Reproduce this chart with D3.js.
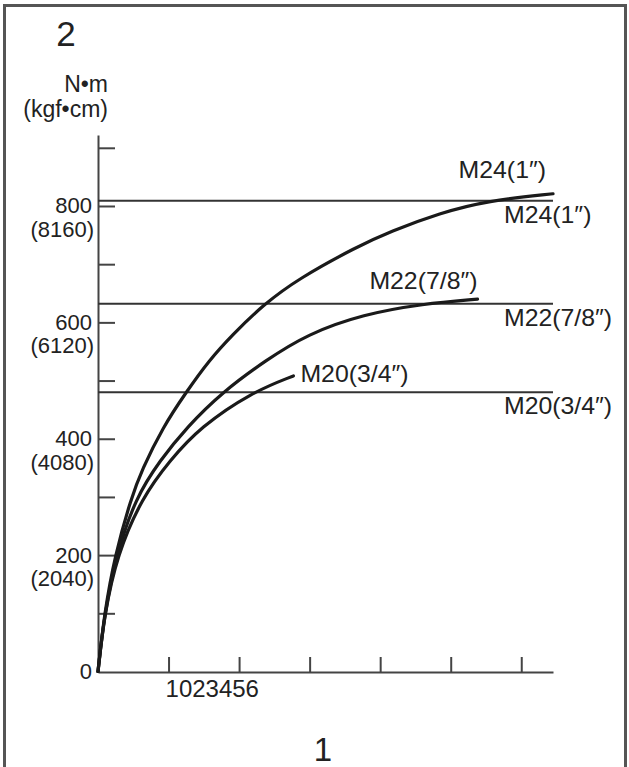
<!DOCTYPE html>
<html>
<head>
<meta charset="utf-8">
<script src="https://cdn.jsdelivr.net/npm/d3@7"></script>
<style>
	body { margin: 0; background: #fff; }
	svg { display: block; font-family: "Liberation Sans", Arial, "DejaVu Sans", sans-serif; }
</style>
</head>
<body>
<svg id="chart" width="629" height="767"></svg>
<script>
// Data (x in chart units, torque in N·m)
const sizes = ["M24(1″)", "M22(7/8″)", "M20(3/4″)"];
const limits = [809, 632, 480];

const m24 = [[0, 0], [0.09, 100], [0.24, 200], [0.47, 298], [0.62, 346], [0.92, 420], [1.25, 480], [1.57, 534],
	[1.9, 578], [2.34, 630], [2.84, 675], [3.67, 730], [4.14, 756], [4.85, 788], [5.52, 809], [6.45, 821]];
const m22 = [[0, 0], [0.09, 98], [0.26, 200], [0.53, 298], [0.88, 363], [1.26, 420], [1.76, 480], [2.38, 535],
	[2.97, 580], [3.76, 614], [4.61, 632], [5.38, 640]];
const m20 = [[0, 0], [0.09, 98], [0.27, 200], [0.62, 298], [1.02, 363], [1.45, 420], [2.18, 480], [2.77, 508]];
const curves = [m24, m22, m20];

const xTicks = [1, 2, 3, 4, 5, 6];
const yTicks = [100, 200, 300, 400, 500, 600, 700, 800, 900];
const yLabels = [0, 200, 400, 600, 800];
const kgfLabels = ["", "(2040)", "(4080)", "(6120)", "(8160)"];

const svg = d3.select("#chart");

// Frame
svg.append("rect")
	.attr("x", 4.5).attr("y", 5.5)
	.attr("width", 621).attr("height", 800)
	.style("fill", "white")
	.style("stroke", "#555")
	.style("stroke-width", 3);

const x = d3.scaleLinear().domain([0, 6.45]).range([98, 553]);
const y = d3.scaleLinear().domain([0, 922]).range([671.5, 135]);

// Axes
svg.append("g")
	.attr("transform", "translate(0,672)")
	.call(d3.axisTop(x).tickValues(xTicks).tickSize(15).tickSizeOuter(0).tickFormat(""))
	.call(g => g.selectAll("path, line").style("stroke", "#444").style("stroke-width", 2));

svg.append("g")
	.attr("transform", "translate(98,0)")
	.call(d3.axisRight(y).tickValues(yTicks).tickSize(17).tickSizeOuter(0).tickFormat(""))
	.call(g => g.selectAll("path, line").style("stroke", "#444").style("stroke-width", 2));

// Y labels, N·m and kgf·cm
svg.append("g")
	.selectAll("text")
	.data(yLabels)
	.join("text")
	.attr("x", 92)
	.attr("y", d => y(d) + 7.5)
	.attr("text-anchor", "end")
	.style("font-size", "22px")
	.style("fill", "#222")
	.text(d => d);

svg.append("g")
	.selectAll("text")
	.data(yLabels)
	.join("text")
	.attr("x", 94)
	.attr("y", d => y(d) + 31)
	.attr("text-anchor", "end")
	.style("font-size", "22px")
	.style("fill", "#222")
	.text((d, i) => kgfLabels[i]);

// X tick label as printed
svg.append("text")
	.attr("x", x(1) - 3)
	.attr("y", 697)
	.style("font-size", "24px")
	.style("fill", "#222")
	.text("1023456");

// Limit lines
svg.append("g")
	.selectAll("line")
	.data(limits)
	.join("line")
	.attr("x1", x(0)).attr("x2", x(6.45))
	.attr("y1", d => y(d)).attr("y2", d => y(d))
	.style("stroke", "#333")
	.style("stroke-width", 2);

// Curves, smoothed through the read points
const line = d3.line()
	.x(d => x(d[0]))
	.y(d => y(d[1]))
	.curve(d3.curveBasis);

svg.append("g")
	.selectAll("path")
	.data(curves)
	.join("path")
	.attr("d", line)
	.style("fill", "none")
	.style("stroke", "#1a1a1a")
	.style("stroke-width", 3.2)
	.style("stroke-linecap", "round");

// Labels on the right of limit lines
svg.append("g")
	.selectAll("text")
	.data(limits)
	.join("text")
	.attr("transform", d => `translate(504,${y(d) + 22}) scale(1.08,1)`)
	.style("font-size", "23px")
	.style("fill", "#222")
	.text((d, i) => sizes[i]);

// Labels at curve ends
const endLabels = [
	{ dx: -7, dy: -16, anchor: "end" },
	{ dx: 0, dy: -10, anchor: "end" },
	{ dx: 7, dy: 6, anchor: "start" }
];
svg.append("g")
	.selectAll("text")
	.data(curves)
	.join("text")
	.attr("transform", (d, i) => {
		const p = d[d.length - 1];
		return `translate(${x(p[0]) + endLabels[i].dx},${y(p[1]) + endLabels[i].dy}) scale(1.08,1)`;
	})
	.attr("text-anchor", (d, i) => endLabels[i].anchor)
	.style("font-size", "23px")
	.style("fill", "#222")
	.text((d, i) => sizes[i]);

// Units and panel numbers
svg.append("text")
	.attr("x", 108).attr("y", 92)
	.attr("text-anchor", "end")
	.style("font-size", "23px")
	.style("fill", "#222")
	.text("N•m");

svg.append("text")
	.attr("x", 108).attr("y", 117)
	.attr("text-anchor", "end")
	.style("font-size", "23px")
	.style("fill", "#222")
	.text("(kgf•cm)");

svg.append("text")
	.attr("x", 66).attr("y", 46)
	.attr("text-anchor", "middle")
	.style("font-size", "35px")
	.style("fill", "#222")
	.text("2");

svg.append("text")
	.attr("x", 323).attr("y", 761)
	.attr("text-anchor", "middle")
	.style("font-size", "33px")
	.style("fill", "#222")
	.text("1");
</script>
</body>
</html>
